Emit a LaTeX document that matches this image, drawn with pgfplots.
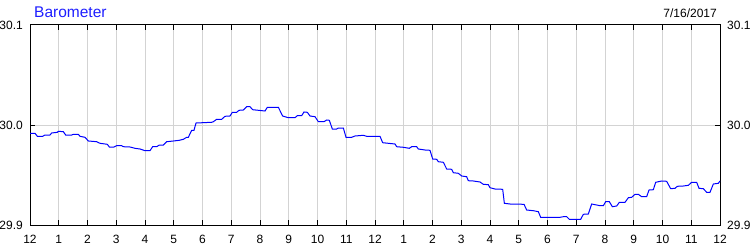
\documentclass[border=0pt]{standalone}
\usepackage{pgfplots}
\pgfplotsset{compat=1.18}
\usepackage{fontspec}
\setmainfont{Liberation Sans}
\definecolor{gridgray}{RGB}{211,211,211}
\definecolor{titleblue}{RGB}{30,30,255}
\begin{document}
\begin{tikzpicture}[x=1bp,y=1bp]
\useasboundingbox (0,0) rectangle (750,250);
\pgfplotsset{
  common/.style={
    at={(30bp,25bp)}, anchor=south west,
    width=690bp, height=200bp, scale only axis,
    xmin=0, xmax=24, ymin=29.9, ymax=30.1,
    ytick={29.9,30.0,30.1},
    yticklabels={29.9,30.0,30.1},
    tick label style={font=\fontsize{12bp}{14bp}\selectfont, text=black},
    /pgf/number format/assume math mode=true,
  }
}
\begin{axis}[common,
    axis line style={black, line width=1bp},
    xtick={0,...,24},
    xticklabels={12,1,2,3,4,5,6,7,8,9,10,11,12,1,2,3,4,5,6,7,8,9,10,11,12},
    xtick pos=both, ytick pos=both,
    xticklabel pos=bottom, yticklabel pos=left,
    tick align=inside, major tick length=5bp,
    tick style={black, line width=1bp},
    xmajorgrids, extra y ticks={30.0}, extra y tick labels={},
    extra y tick style={grid=major, ytick pos=both},
    grid style={gridgray, line width=1bp},
    xticklabel style={inner sep=0pt, anchor=north, yshift=-10bp},
    yticklabel style={inner sep=0pt, anchor=east, xshift=-7bp},
  ]
\addplot[color=blue, line width=1bp] coordinates {
(0.000,29.9917) (0.174,29.9917) (0.255,29.9887) (0.441,29.9887) (0.522,29.9900)
(0.696,29.9900) (0.754,29.9920) (0.951,29.9927) (0.986,29.9937) (1.159,29.9933)
(1.241,29.9900) (1.450,29.9900) (1.507,29.9907) (1.681,29.9907) (1.739,29.9887)
(1.913,29.9877) (2.029,29.9840) (2.319,29.9833) (2.435,29.9817) (2.690,29.9807)
(2.759,29.9780) (2.922,29.9780) (3.015,29.9793) (3.188,29.9793) (3.246,29.9783)
(3.478,29.9780) (3.652,29.9767) (3.826,29.9760) (4.000,29.9743) (4.174,29.9743)
(4.267,29.9783) (4.406,29.9783) (4.499,29.9800) (4.638,29.9800) (4.754,29.9833)
(4.986,29.9840) (5.194,29.9847) (5.333,29.9857) (5.449,29.9877) (5.507,29.9877)
(5.623,29.9947) (5.704,29.9947) (5.774,30.0020) (6.319,30.0027) (6.377,30.0033)
(6.493,30.0057) (6.667,30.0057) (6.783,30.0087) (6.957,30.0090) (7.038,30.0127)
(7.188,30.0127) (7.270,30.0147) (7.420,30.0150) (7.536,30.0183) (7.652,30.0183)
(7.745,30.0153) (7.942,30.0147) (8.174,30.0140) (8.255,30.0177) (8.638,30.0177)
(8.788,30.0090) (8.985,30.0073) (9.217,30.0073) (9.298,30.0093) (9.449,30.0093)
(9.530,30.0130) (9.646,30.0127) (9.739,30.0090) (9.913,30.0083) (10.029,30.0033)
(10.226,30.0033) (10.319,30.0050) (10.411,30.0047) (10.516,29.9960) (10.667,29.9960)
(10.725,29.9970) (10.899,29.9970) (10.991,29.9877) (11.188,29.9877) (11.304,29.9890)
(11.594,29.9897) (11.710,29.9887) (12.174,29.9887) (12.267,29.9823) (12.464,29.9817)
(12.696,29.9810) (12.754,29.9783) (12.986,29.9777) (13.194,29.9767) (13.275,29.9783)
(13.449,29.9783) (13.507,29.9760) (13.739,29.9750) (13.913,29.9747) (14.006,29.9660)
(14.145,29.9657) (14.203,29.9633) (14.377,29.9627) (14.493,29.9560) (14.667,29.9557)
(14.725,29.9523) (14.899,29.9517) (15.014,29.9490) (15.188,29.9483) (15.246,29.9443)
(15.420,29.9440) (15.652,29.9430) (15.768,29.9407) (15.942,29.9403) (16.000,29.9373)
(16.174,29.9360) (16.441,29.9357) (16.499,29.9217) (16.696,29.9210) (17.183,29.9207)
(17.275,29.9150) (17.507,29.9143) (17.681,29.9133) (17.762,29.9077) (18.435,29.9077)
(18.551,29.9083) (18.667,29.9083) (18.759,29.9057) (19.154,29.9057) (19.246,29.9107)
(19.420,29.9110) (19.536,29.9210) (19.710,29.9200) (19.826,29.9193) (19.942,29.9193)
(20.023,29.9233) (20.151,29.9233) (20.255,29.9183) (20.406,29.9190) (20.499,29.9227)
(20.696,29.9227) (20.812,29.9273) (20.928,29.9277) (21.043,29.9307) (21.159,29.9307)
(21.275,29.9283) (21.449,29.9283) (21.530,29.9350) (21.681,29.9353) (21.762,29.9427)
(21.971,29.9440) (22.145,29.9437) (22.284,29.9363) (22.435,29.9367) (22.516,29.9387)
(22.725,29.9390) (22.899,29.9397) (23.014,29.9427) (23.188,29.9427) (23.270,29.9367)
(23.420,29.9363) (23.536,29.9327) (23.652,29.9327) (23.768,29.9410) (23.942,29.9417)
(24.000,29.9440)
};
\end{axis}
\begin{axis}[common,
    hide x axis,
    axis y line*=right,
    y axis line style={draw=none},
    major tick length=0pt,
    yticklabel style={inner sep=0pt, anchor=west, xshift=7bp},
  ]
\end{axis}
\node[anchor=base west, inner sep=0pt, text=titleblue, font=\fontsize{15.5bp}{18bp}\selectfont] at (34,232.7) {Barometer};
\node[anchor=base east, inner sep=0pt, font=\fontsize{12bp}{14bp}\selectfont] at (717,232.7) {7/16/2017};
\end{tikzpicture}
\end{document}
